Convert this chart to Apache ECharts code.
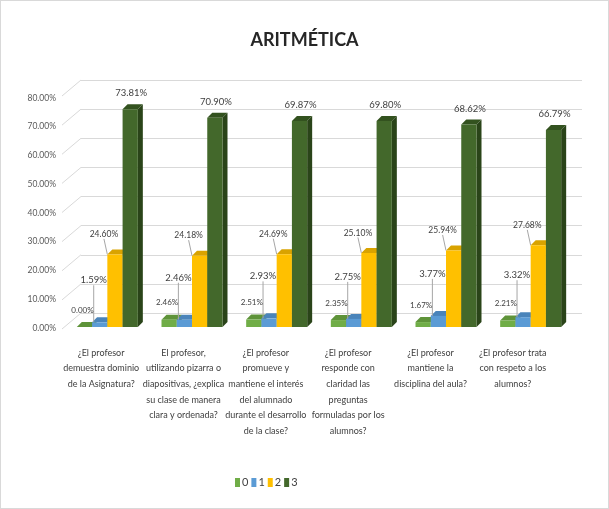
<!DOCTYPE html>
<html><head><meta charset="utf-8">
<script src="https://cdn.jsdelivr.net/npm/echarts@6/dist/echarts.min.js"></script>
<style>html,body{margin:0;padding:0;background:#fff}#c{width:607px;height:507px;border:1px solid #d9d9d9}</style>
</head><body><div id="c"></div>
<script>
const categories = [
  "¿El profesor\ndemuestra dominio\nde la Asignatura?",
  "El profesor,\nutilizando pizarra o\ndiapositivas, ¿explica\nsu clase de manera\nclara y ordenada?",
  "¿El profesor\npromueve y\nmantiene el interés\ndel alumnado\ndurante el desarrollo\nde la clase?",
  "¿El profesor\nresponde con\nclaridad las\npreguntas\nformuladas por los\nalumnos?",
  "¿El profesor\nmantiene la\ndisciplina del aula?",
  "¿El profesor trata\ncon respeto a los\nalumnos?"
];
const seriesNames = ["0", "1", "2", "3"];
const values0 = [0.00, 2.46, 2.51, 2.35, 1.67, 2.21];
const values1 = [1.59, 2.46, 2.93, 2.75, 3.77, 3.32];
const values2 = [24.60, 24.18, 24.69, 25.10, 25.94, 27.68];
const values3 = [73.81, 70.90, 69.87, 69.80, 68.62, 66.79];
const yTicks = [0, 10, 20, 30, 40, 50, 60, 70, 80];
const titleText = "ARITMÉTICA";

const allValues = [values0, values1, values2, values3];
const frontC = ["#70AD47", "#5B9BD5", "#FFC000", "#43682B"];
const topC = ["#5E9339", "#4A84BA", "#D9A300", "#33521F"];
const sideC = ["#4E7A2F", "#3D6E9C", "#BF8F00", "#2A4419"];
const BW = 15.25, D = 5, WDX = 19, WDY = 16;
const FONT = "Lato, 'Liberation Sans', sans-serif";
const LDX = [-2, -6, -11, 1];
const LDY = [17, 42, 20, 16];
const LFS = [8, 9.5, 8.5, 9.5];

const chart = echarts.init(document.getElementById('c'), null, {renderer: 'canvas'});

function faces(si) {
  return function (params, api) {
    const idx = api.value(0), v = api.value(1);
    const c = api.coord([idx, v]);
    const b = api.coord([idx, 0]);
    const x0 = c[0] - 2 * BW + si * BW, x1 = x0 + BW;
    const yT = c[1], yB = b[1];
    return {type: 'group', children: [
      {type: 'polygon', shape: {points: [[x0, yT], [x0 + D, yT - D], [x1 + D, yT - D], [x1, yT]]}, style: {fill: topC[si]}},
      {type: 'polygon', shape: {points: [[x1, yT], [x1 + D, yT - D], [x1 + D, yB - D], [x1, yB]]}, style: {fill: sideC[si]}}
    ]};
  };
}

const series = [];
allValues.forEach((vals, si) => {
  series.push({
    name: seriesNames[si], type: 'bar', xAxisIndex: 0, yAxisIndex: 0,
    data: vals, barWidth: BW, barGap: '0%', z: 3,
    itemStyle: {color: frontC[si]},
    label: {show: true, position: 'top', formatter: p => p.value.toFixed(2) + '%',
      color: '#404040', fontSize: LFS[si], fontFamily: FONT},
    labelLine: {show: si === 1 || si === 2, lineStyle: {color: '#a6a6a6', width: 1}},
    labelLayout: function (p) {
      return {x: p.rect.x + p.rect.width / 2 + LDX[si], y: p.rect.y - LDY[si], align: 'center', verticalAlign: 'middle'};
    }
  });
});
allValues.forEach((vals, si) => {
  series.push({
    name: 'face' + si, type: 'custom', xAxisIndex: 0, yAxisIndex: 0, z: 2,
    data: vals.map((v, i) => [i, v]), encode: {x: 0, y: 1},
    renderItem: faces(si), silent: true
  });
});
series.push({
  name: 'wall', type: 'custom', xAxisIndex: 2, yAxisIndex: 2, z: 1, silent: true,
  data: yTicks.map(t => [0, t]), encode: {x: 0, y: 1},
  renderItem: function (params, api) {
    const p = api.coord([0, api.value(1)]);
    const x = params.coordSys.x;
    return {type: 'line', shape: {x1: x - WDX, y1: p[1] + WDY, x2: x, y2: p[1]}, style: {stroke: '#d9d9d9', lineWidth: 1}};
  }
});

chart.setOption({
  animation: false,
  backgroundColor: '#fff',
  title: {text: titleText, left: 'center', top: 25,
    textStyle: {fontSize: 18, fontWeight: 'bold', color: '#262626', fontFamily: FONT}},
  legend: {data: seriesNames, bottom: 15, left: 229, itemWidth: 5, itemHeight: 9, itemGap: 3, icon: 'rect',
    textStyle: {color: '#404040', fontSize: 11, fontFamily: FONT, padding: [0, 0, 0, -3]}},
  grid: [
    {left: 64, right: 35, top: 90, bottom: 181},
    {left: 59, right: 54, top: 97, bottom: 180},
    {left: 80, right: 26, top: 79, bottom: 195}
  ],
  xAxis: [
    {type: 'category', gridIndex: 0, data: categories, axisLine: {show: false}, axisTick: {show: false}, axisLabel: {show: false}},
    {type: 'category', gridIndex: 1, data: categories, axisLine: {show: false}, axisTick: {show: false},
      axisLabel: {interval: 0, margin: 17, color: '#404040', fontSize: 9, lineHeight: 15.6, fontFamily: FONT}},
    {type: 'value', gridIndex: 2, min: 0, max: 1, show: false}
  ],
  yAxis: [
    {type: 'value', gridIndex: 0, min: 0, max: 80, interval: 10, show: false, splitLine: {show: false}},
    {type: 'value', gridIndex: 1, min: 0, max: 80, interval: 10, splitLine: {show: false},
      axisLine: {show: false}, axisTick: {show: false},
      axisLabel: {margin: 4, color: '#595959', fontSize: 8.5, fontFamily: FONT, formatter: v => v.toFixed(2) + '%'}},
    {type: 'value', gridIndex: 2, min: 0, max: 80, interval: 10, axisLabel: {show: false}, axisLine: {show: false}, axisTick: {show: false},
      splitLine: {show: true, lineStyle: {color: '#d9d9d9', width: 1}}}
  ],
  series: series
});
</script></body></html>
